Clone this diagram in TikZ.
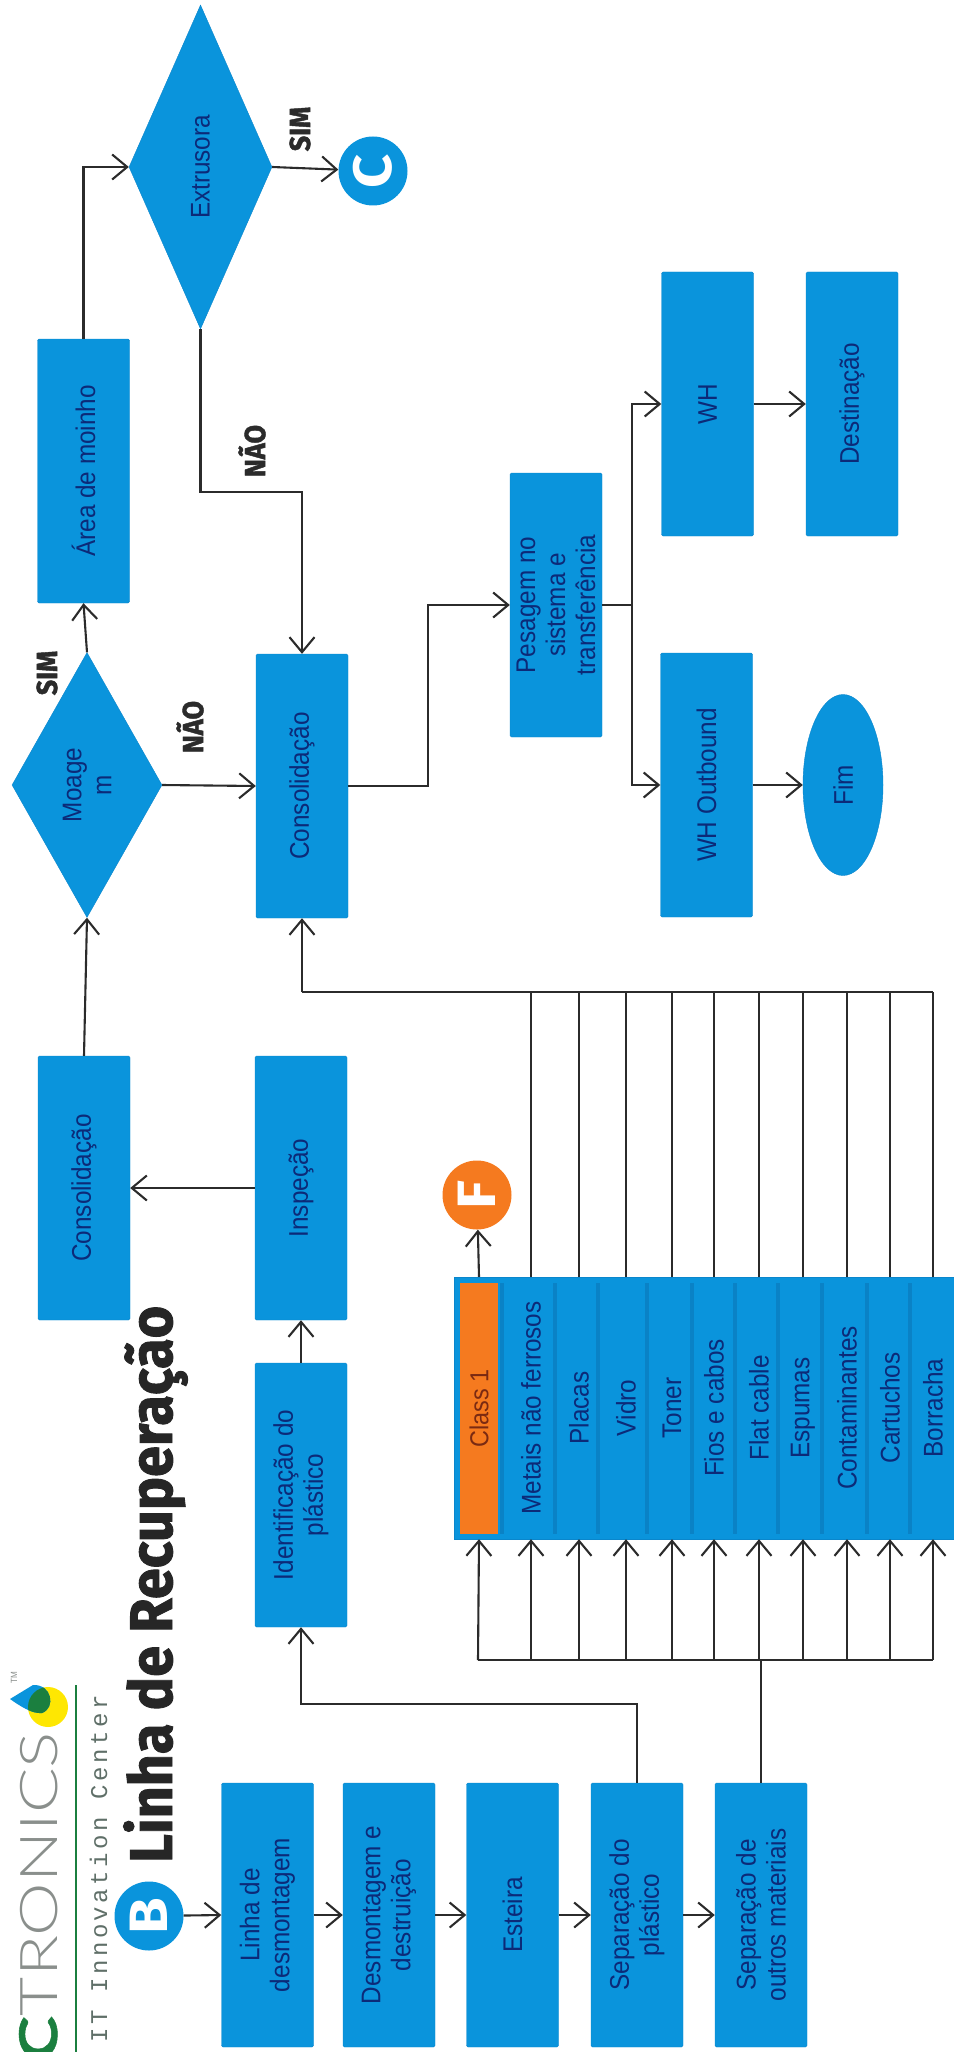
\documentclass[tikz,border=0pt]{standalone}
\usepackage{fontspec}
\setmainfont{Liberation Sans}[FakeStretch=0.9]
\newfontfamily\titlefont{Fira Sans}[FakeStretch=0.93,BoldFeatures={FakeBold=1.5}]
\newfontfamily\linkfont{Fira Sans}[FakeStretch=1.1]
\newfontfamily\logofont{Lato Light}[FakeStretch=1.3]
\newfontfamily\logobold{Lato}[FakeStretch=1.3,BoldFeatures={FakeBold=1}]
\newfontfamily\logomono{Liberation Mono}[LetterSpace=14.6]
\usetikzlibrary{arrows.meta,calc,shapes.geometric}
\definecolor{boxblue}{HTML}{0A94DC}
\definecolor{edgeblue}{HTML}{0A86CC}
\definecolor{stripblue}{HTML}{0A82C6}
\definecolor{boxtext}{HTML}{0C2A78}
\definecolor{bandorange}{HTML}{F57A1F}
\definecolor{bandtext}{HTML}{7A2A12}
\definecolor{inkdark}{HTML}{2B2B2B}
\definecolor{logogreen}{HTML}{1B7F3F}
\definecolor{logogrey}{HTML}{8A8F8C}
\definecolor{monogrey}{HTML}{5F6F68}
\tikzset{
    stepbox/.style={rectangle, rounded corners=1.5pt, fill=boxblue, draw=edgeblue, rotate=90, align=center,
        minimum width=264pt, minimum height=92pt, inner sep=0pt, text=boxtext, font=\fontsize{27}{30}\selectfont},
    decision/.style={diamond, fill=boxblue, draw=edgeblue, rotate=90, align=center, inner sep=0pt,
        text=boxtext, font=\fontsize{27}{30}\selectfont},
    linkcircle/.style={circle, fill=#1, minimum size=69pt, inner sep=0pt, rotate=90, text=white,
        font=\linkfont\bfseries\fontsize{54}{54}\selectfont},
    rowlabel/.style={rotate=90, minimum width=262pt, inner sep=0pt, text=boxtext, font=\fontsize{27}{30}\selectfont},
    flowlabel/.style={rotate=90, inner sep=0pt, text=inkdark, font=\titlefont\bfseries\fontsize{29}{30}\selectfont},
    flow/.style={draw=inkdark, line width=2.1pt},
    flowto/.style={flow, -{Straight Barb[length=15pt,width=25pt,line width=2.1pt]}}
}
\begin{document}
\begin{tikzpicture}[x=1pt,y=-1pt]
    \useasboundingbox (0,0) rectangle (953,2052);

    \fill[yellow!90!orange] (48,1707) circle (20);
    \fill[boxblue] (10,1699) -- (33,1685) .. controls (52,1684) and (56,1708) .. (42,1713) .. controls (32,1714) and (20,1706) .. cycle;
    \begin{scope}
        \clip (48,1707) circle (20);
        \fill[logogreen] (10,1699) -- (33,1685) .. controls (52,1684) and (56,1708) .. (42,1713) .. controls (32,1714) and (20,1706) .. cycle;
    \end{scope}
    \node[rotate=90, anchor=base west, inner sep=0pt, text=logogrey, font=\fontsize{9}{9}\selectfont] (tmmark) at (17,1684) {TM};
    \node[rotate=90, anchor=base west, inner sep=0pt, text=logogrey, font=\logofont\fontsize{52}{52}\selectfont] (logo) at (57,2061) {\textcolor{logogreen}{\logobold\bfseries C}TRONICS};
    \draw[logogreen, line width=1.6pt] (76,1685) -- (76,2052);
    \node[rotate=90, anchor=base west, inner sep=0pt, text=monogrey, font=\logomono\fontsize{24}{24}\selectfont] (logosub) at (107,2043) {IT Innovation Center};
    \node[rotate=90, anchor=base west, inner sep=0pt, text=black!85, font=\titlefont\bfseries\fontsize{60}{60}\selectfont] (title) at (172,1863) {Linha de Recuperação};

    \node[linkcircle=boxblue] (circb) at (149,1916) {B};
    \node[stepbox] (linha) at (267.5,1915) {Linha de\\desmontagem};
    \node[stepbox] (desmont) at (389,1915) {Desmontagem e\\destruição};
    \node[stepbox] (esteira) at (512.5,1915) {Esteira};
    \node[stepbox] (sepplast) at (637,1915) {Separação do\\plástico};
    \node[stepbox] (sepout) at (761,1915) {Separação de\\outros materiais};

    \node[stepbox] (ident) at (301,1495) {Identificação do\\plástico};
    \node[stepbox] (inspecao) at (301,1188) {Inspeção};
    \node[stepbox] (consoltop) at (84,1188) {Consolidação};
    \node[decision, minimum width=265pt, minimum height=150pt] (moagem) at (87,785) {Moage\\m};
    \node[stepbox] (area) at (83.5,471) {Área de moinho};
    \node[decision, minimum width=324pt, minimum height=143pt] (extrusora) at (200.5,167) {Extrusora};
    \node[linkcircle=boxblue] (circc) at (373,171) {C};

    \node[stepbox] (consolmid) at (302,786) {Consolidação};
    \node[stepbox] (pesagem) at (556,605) {Pesagem no\\sistema e\\transferência};
    \node[stepbox] (wh) at (707.5,404) {WH};
    \node[stepbox] (whout) at (706.5,785) {WH Outbound};
    \node[stepbox] (destino) at (852,404) {Destinação};
    \node[ellipse, fill=boxblue, draw=edgeblue, rotate=90, minimum width=181pt, minimum height=80pt, inner sep=0pt,
        text=boxtext, font=\fontsize{27}{30}\selectfont] (fim) at (843,785) {Fim};

    \node[rectangle, fill=boxblue, draw=edgeblue, minimum width=505pt, minimum height=262pt, inner sep=0pt] (classbox) at (706.5,1408) {};
    \foreach \x in {502,555,598,647,692,735,778,822,867,910}
        \draw[stripblue, line width=4pt] (\x,1283) -- (\x,1534);
    \node[rectangle, fill=bandorange, rotate=90, minimum width=251pt, minimum height=38pt, inner sep=0pt,
        text=bandtext, font=\fontsize{26}{30}\selectfont] (class1) at (479,1408.5) {Class 1};
    \foreach \rowname/\x/\rowtext in {rowa/531/Metais não ferrosos, rowb/579/Placas, rowc/626/Vidro, rowd/672/Toner,
        rowe/714/Fios e cabos, rowf/759/Flat cable, rowg/803/Espumas, rowh/847/Contaminantes, rowi/890/Cartuchos, rowj/933/Borracha}
        \node[rowlabel] (\rowname) at (\x,1408) {\rowtext};
    \node[linkcircle=bandorange] (circf) at (477,1195) {F};

    \node[flowlabel] (simtop) at (47,673) {SIM};
    \node[flowlabel] (naoleft) at (190,727) {NÃO};
    \node[flowlabel] (simright) at (300,129) {SIM};
    \node[flowlabel] (naomid) at (252,451) {NÃO};

    \coordinate (plastbus) at (301,1704);
    \coordinate (inbus) at (478,1660);
    \coordinate (retbus) at (302,992);
    \coordinate (naobend) at (302,492);
    \coordinate (pesbus) at (428,605);
    \coordinate (outbus) at (632,605);

    \draw[flowto] (circb) -- (linha.north);
    \draw[flowto] (linha.south) -- (desmont.north);
    \draw[flowto] (desmont.south) -- (esteira.north);
    \draw[flowto] (esteira.south) -- (sepplast.north);
    \draw[flowto] (sepplast.south) -- (sepout.north);

    \draw[flowto] (sepplast.east) |- (plastbus) -- (ident.west);
    \draw[flowto] (ident.east) -- (inspecao.west);
    \draw[flowto] (inspecao.north) -- (consoltop.south);
    \draw[flowto] (consoltop.east) -- (moagem.west);
    \draw[flowto] (moagem.east) -- (area.west);
    \draw[flowto] (moagem.south) -- (consolmid.north);
    \draw[flowto] (area.east) |- (extrusora.north);
    \draw[flowto] (extrusora.south) -- (circc);
    \draw[flowto] (extrusora.west) |- (naobend) -- (consolmid.east);

    \draw[flowto] (consolmid.south) -| (pesbus) -- (pesagem.north);
    \draw[flow] (pesagem.south) -- (outbus);
    \draw[flowto] (outbus) |- (wh.north);
    \draw[flowto] (outbus) |- (whout.north);
    \draw[flowto] (wh.south) -- (destino.north);
    \draw[flowto] (whout.south) -- (fim.north);

    \draw[flow] (sepout.east) -- (sepout.east |- inbus);
    \draw[flow] (inbus) -- (rowj.center |- inbus);
    \draw[flowto] (inbus) -- (class1 |- classbox.south);
    \draw[flowto] (class1 |- classbox.north) -- (circf);
    \foreach \rowname in {rowa,rowb,rowc,rowd,rowe,rowf,rowg,rowh,rowi,rowj} {
        \draw[flowto] (\rowname.center |- inbus) -- (\rowname.west);
        \draw[flow] (\rowname.east) -- (\rowname.center |- retbus);
    }
    \draw[flow] (retbus) -- (rowj.center |- retbus);
    \draw[flowto] (retbus) -- (consolmid.west);
\end{tikzpicture}
\end{document}
